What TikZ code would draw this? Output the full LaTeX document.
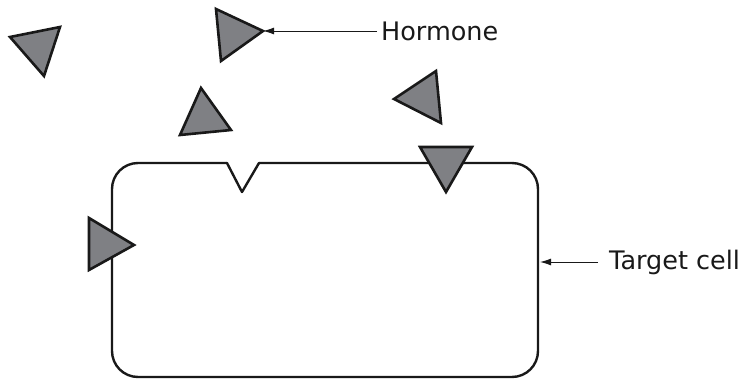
\documentclass[tikz,border=0pt]{standalone}
\usepackage{fontspec}
\setmainfont{DejaVu Sans}
\usetikzlibrary{arrows.meta}
\definecolor{hormonegray}{RGB}{127,128,132}
\tikzset{
    molecule/.style={draw=black!90, fill=hormonegray, line width=2.6pt, line join=miter},
    cellwall/.style={draw=black!90, line width=2.4pt, line cap=round, line join=round},
    pointer/.style={-{Latex[length=11pt,width=7pt]}, line width=1pt, black!90},
    caption/.style={font=\fontsize{25.5}{30}\selectfont, text=black!90, inner sep=0pt}
}
\begin{document}
\begin{tikzpicture}[x=1pt, y=-1pt]
        \useasboundingbox (0,0) rectangle (750,378);

        % Target cell with empty receptor notch
        \draw[cellwall] (259,163) [rounded corners=26] -- (538,163) -- (538,377) -- (112,377) -- (112,163) [sharp corners] -- (227,163);
        \draw[cellwall] (227,163) -- (242,192) -- (259,163);

        % Hormone molecules
        \draw[molecule] (10,37) -- (60,27) -- (44,76) -- cycle;
        \draw[molecule] (216,9) -- (263,31) -- (221,61) -- cycle;
        \coordinate (tip) at (263,31);
        \draw[molecule] (201,88) -- (231,130) -- (180,135) -- cycle;
        \draw[molecule] (436,71) -- (394,99) -- (441,123) -- cycle;

        % Bound hormones
        \draw[molecule] (420,147) -- (472,147) -- (446,192) -- cycle;
        \draw[molecule] (89,218) -- (134,245) -- (89,270) -- cycle;

        % Labels
        \node[caption, anchor=west] (hormone) at (381,31) {Hormone};
        \node[caption, anchor=west] (target) at (609,262) {Target cell};
        \coordinate (wall) at (540,262);

        \draw[pointer] (hormone.west) ++(-4,0) -- (tip);
        \draw[pointer] (target.west) ++(-11,0) -- (wall);
    \end{tikzpicture}
\end{document}
